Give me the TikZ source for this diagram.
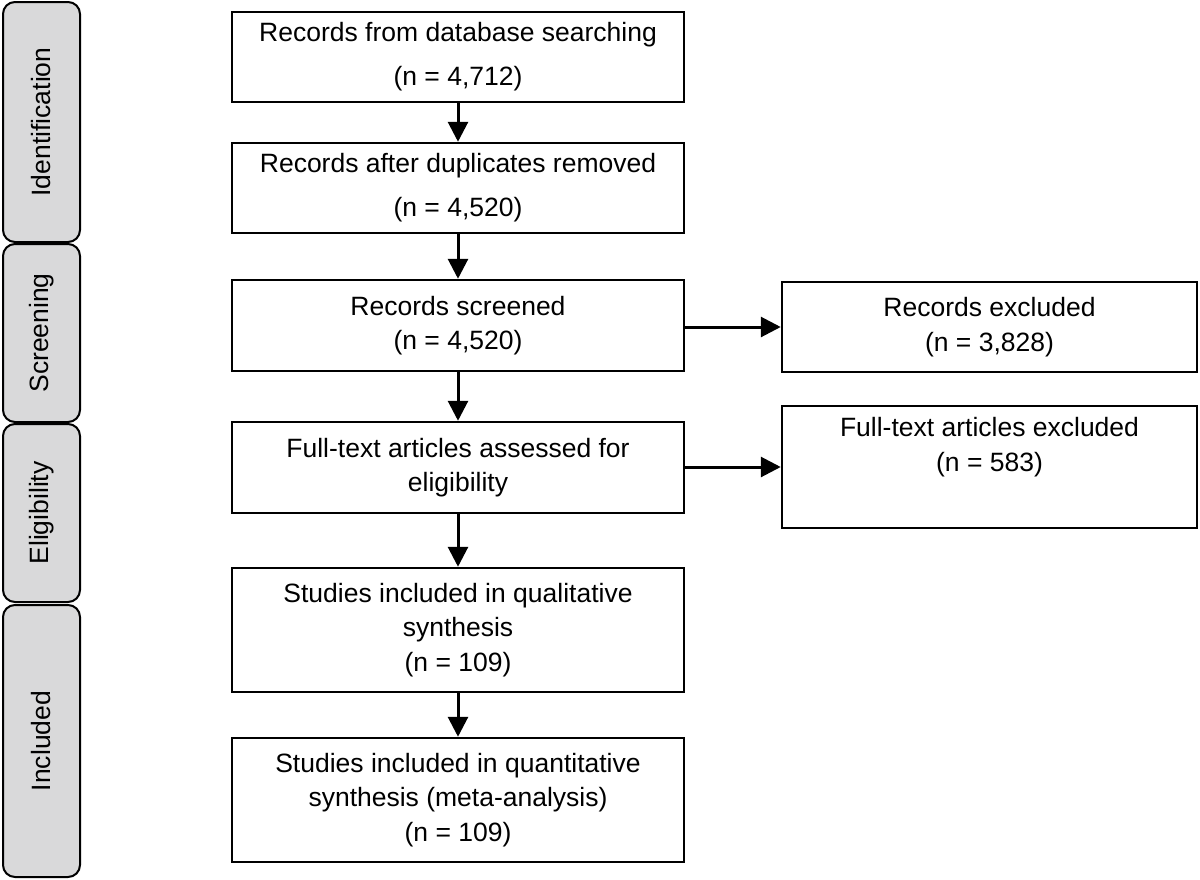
\documentclass[tikz,border=0pt]{standalone}
\usepackage{fontspec}
\setmainfont{Liberation Sans}
\usetikzlibrary{arrows.meta}
\definecolor{stagegrey}{HTML}{D9D9DA}
\begin{document}
\begin{tikzpicture}[x=1pt,y=-1pt,
  stagebox/.style={draw=black,line width=2pt,fill=stagegrey,rounded corners=12pt,
    minimum width=77pt,inner sep=0pt,font=\fontsize{26.5}{32}\selectfont},
  mainbox/.style={draw=black,line width=2.5pt,fill=white,minimum width=452pt,inner sep=0pt,
    align=center,font=\fontsize{26.5}{34.5}\selectfont},
  sidebox/.style={mainbox,minimum width=415pt},
  widebox/.style={font=\fontsize{26.5}{44}\selectfont},
  flow/.style={line width=3pt,-{Triangle[length=20pt,width=20pt]}}
]
\useasboundingbox (0,0) rectangle (1200,879);
% stage boxes
\node[stagebox,minimum height=240pt] (ident) at (41.5,122) {\rotatebox{90}{Identification}};
\node[stagebox,minimum height=178pt] (screen) at (41.5,333) {\rotatebox{90}{Screening}};
\node[stagebox,minimum height=178pt] (elig) at (41.5,513) {\rotatebox{90}{Eligibility}};
\node[stagebox,minimum height=272pt] (incl) at (41.5,741) {\rotatebox{90}{Included}};
% main column
\node[mainbox,widebox,minimum height=90pt] (b1) at (458,57) {Records from database searching\\(n = 4,712)};
\node[mainbox,widebox,minimum height=90pt] (b2) at (458,188) {Records after duplicates removed\\(n = 4,520)};
\node[mainbox,minimum height=91pt] (b3) at (458,325.5) {Records screened\\(n = 4,520)};
\node[mainbox,minimum height=91pt] (b4) at (458,467.5) {Full-text articles assessed for\\eligibility};
\node[mainbox,minimum height=124pt] (b5) at (458,630) {Studies included in qualitative\\synthesis\\(n = 109)};
\node[mainbox,minimum height=124pt] (b6) at (458,800) {Studies included in quantitative\\synthesis (meta-analysis)\\(n = 109)};
% side column
\node[sidebox,minimum height=90pt] (r1) at (989.5,327) {Records excluded\\(n = 3,828)};
\node[sidebox,minimum height=122pt] (r2) at (989.5,467) {Full-text articles excluded\\(n = 583)\\\strut};
% connectors
\draw[flow] (b1) -- (b2);
\draw[flow] (b2) -- (b3);
\draw[flow] (b3) -- (b4);
\draw[flow] (b4) -- (b5);
\draw[flow] (b5) -- (b6);
\draw[flow] (b3.east |- r1.west) -- (r1.west);
\draw[flow] (b4.east |- r2.west) -- (r2.west);
\end{tikzpicture}
\end{document}
